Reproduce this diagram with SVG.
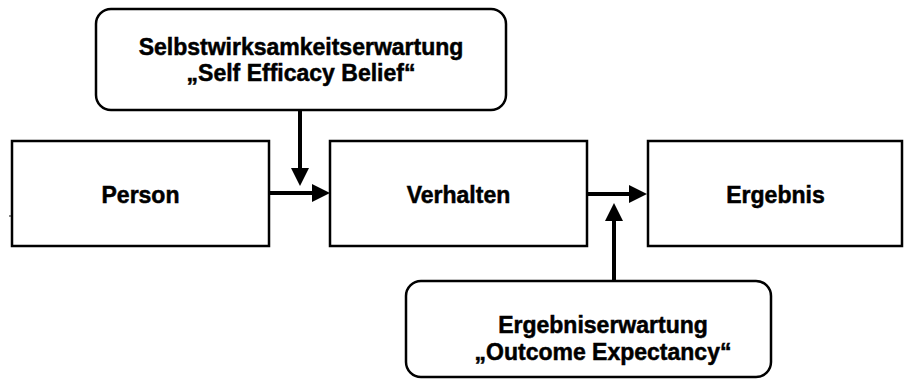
<svg xmlns="http://www.w3.org/2000/svg" width="904" height="381" viewBox="0 0 904 381">
<style>
.box{fill:#fff;stroke:#000;stroke-width:2.5}
.lbl{font-family:"Liberation Sans",Arial,sans-serif;font-weight:bold;font-size:23px;fill:#000;stroke:#000;stroke-width:0.5;text-anchor:middle}
.conn{stroke:#000;stroke-width:4;fill:none}
</style>
<defs>
<marker id="ah" markerUnits="userSpaceOnUse" markerWidth="18" markerHeight="18" refX="1" refY="9" orient="auto">
<path d="M0,0 L18,9 L0,18 z" fill="#000"/>
</marker>
</defs>
<rect x="0" y="0" width="904" height="381" fill="#fff"/>
<rect x="9" y="215" width="2" height="2" fill="#888"/>
<g id="person">
<rect class="box" x="12" y="141" width="257" height="105"/>
<text class="lbl" x="140.5" y="203">Person</text>
</g>
<g id="verhalten">
<rect class="box" x="330" y="141" width="257" height="105"/>
<text class="lbl" x="458.5" y="203">Verhalten</text>
</g>
<g id="ergebnis">
<rect class="box" x="648" y="141" width="254" height="105"/>
<text class="lbl" x="775.5" y="203">Ergebnis</text>
</g>
<g id="selbstwirksamkeit">
<rect class="box" x="96" y="9" width="410" height="101" rx="15" ry="15"/>
<text class="lbl" x="301" y="55">Selbstwirksamkeitserwartung</text>
<text class="lbl" x="301" y="81">„Self Efficacy Belief“</text>
</g>
<g id="ergebniserwartung">
<rect class="box" x="406" y="281" width="365" height="96" rx="15" ry="15"/>
<text class="lbl" x="603" y="333">Ergebniserwartung</text>
<text class="lbl" x="603" y="360">„Outcome Expectancy“</text>
</g>
<g id="connectors">
<line class="conn" x1="269" y1="193" x2="313" y2="193" marker-end="url(#ah)"/>
<line class="conn" x1="300" y1="110" x2="300" y2="169" marker-end="url(#ah)"/>
<line class="conn" x1="587" y1="194" x2="630" y2="194" marker-end="url(#ah)"/>
<line class="conn" x1="614" y1="281" x2="614" y2="220" marker-end="url(#ah)"/>
</g>
</svg>
